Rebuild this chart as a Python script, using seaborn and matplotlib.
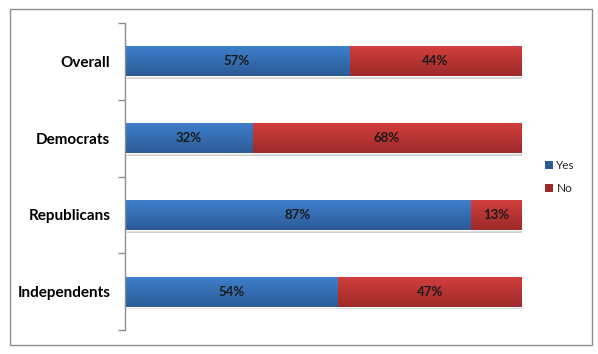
import matplotlib
matplotlib.use("Agg")
import matplotlib.pyplot as plt
import matplotlib.patheffects as pe
from matplotlib.patches import Rectangle, Patch
from matplotlib.colors import LinearSegmentedColormap
import numpy as np
import pandas as pd
import seaborn as sns

categories = ["Overall", "Democrats", "Republicans", "Independents"]
yes_values = [57, 32, 87, 54]
no_values = [44, 68, 13, 47]
series_names = ["Yes", "No"]

sns.set_theme(style="white")
plt.rcParams["font.family"] = ["Lato", "DejaVu Sans"]

totals = [y + n for y, n in zip(yes_values, no_values)]
df = pd.DataFrame({
    "category": categories,
    "yes_share": [y / t for y, t in zip(yes_values, totals)],
    "total_share": [1.0 for _ in totals],
})

fig = plt.figure(figsize=(5.98, 3.54), dpi=100)
ax = fig.add_axes([125 / 598, 1 - 330 / 354, (522 - 125) / 598, (330 - 23) / 354])

blue_top, blue_bot = "#3E7FCC", "#2B5B96"
red_top, red_bot = "#D13E3C", "#9C2A29"

shadow = [pe.SimplePatchShadow(offset=(1.5, -2), shadow_rgbFace="#000000", alpha=0.18), pe.Normal()]

sns.barplot(data=df, x="total_share", y="category", orient="h", color=red_top,
            width=0.39, ax=ax, saturation=1)
n_red = len(ax.patches)
sns.barplot(data=df, x="yes_share", y="category", orient="h", color=blue_top,
            width=0.39, ax=ax, saturation=1)

patches = list(ax.patches)
grad = np.linspace(0, 1, 64).reshape(-1, 1)
for i, p in enumerate(patches):
    is_red = i < n_red
    cmap = LinearSegmentedColormap.from_list("g", [red_top, red_bot] if is_red else [blue_top, blue_bot])
    x0, y0 = p.get_x(), p.get_y()
    w, h = p.get_width(), p.get_height()
    if is_red:
        p.set_path_effects(shadow)
    im = ax.imshow(grad, cmap=cmap, aspect="auto", extent=(x0, x0 + w, y0 + h, y0),
                   origin="upper", zorder=p.get_zorder() + 0.1 * (2 if not is_red else 1))
    im.set_clip_path(p)

# value labels
for i, cat in enumerate(categories):
    ys = df["yes_share"][i]
    ax.text(ys / 2, i, f"{yes_values[i]}%", ha="center", va="center", fontsize=9.5,
            fontweight="bold", color="#1a1a1a", zorder=10)
    ax.text(ys + (1 - ys) / 2, i, f"{no_values[i]}%", ha="center", va="center", fontsize=9.5,
            fontweight="bold", color="#1a1a1a", zorder=10)

ax.set_xlim(0, 1)
ax.set_ylim(len(categories) - 0.5, -0.5)
ax.set_xlabel("")
ax.set_ylabel("")
ax.set_xticks([])
for s in ["top", "right", "bottom"]:
    ax.spines[s].set_visible(False)
ax.spines["left"].set_color("#8c8c8c")
ax.spines["left"].set_linewidth(1)

ax.set_yticks(range(len(categories)))
ax.set_yticklabels(categories, fontsize=11, fontweight="bold", color="black")
ax.tick_params(axis="y", which="major", length=0, pad=10.5)
ax.set_yticks(np.arange(-0.5, len(categories), 1.0), minor=True)
ax.tick_params(axis="y", which="minor", length=5, width=1, color="#8c8c8c", direction="out", left=True)
ax.patch.set_alpha(0)

handles = [Patch(facecolor=blue_bot, edgecolor="none"), Patch(facecolor=red_bot, edgecolor="none")]
fig.legend(handles, series_names, loc="center left", bbox_to_anchor=(534 / 598, 1 - 177 / 354),
           frameon=False, fontsize=8.5, handlelength=0.7, handleheight=0.7, handletextpad=0.3,
           labelspacing=1.0)

fig.patches.append(Rectangle((10 / 598, 1 - 345 / 354), 582 / 598, 336 / 354,
                             transform=fig.transFigure, fill=False, edgecolor="#8c8c8c", lw=1))

fig.savefig("out.png", dpi=100)
